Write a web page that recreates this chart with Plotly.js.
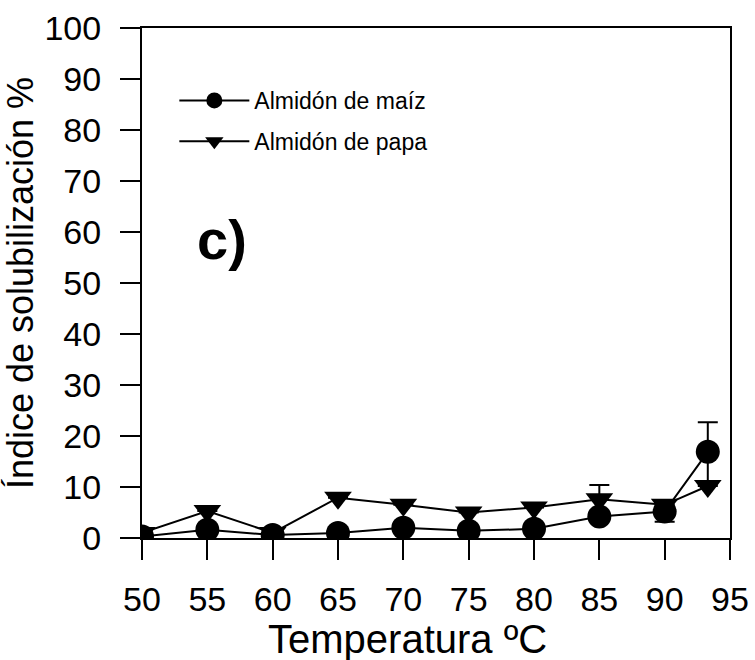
<!DOCTYPE html>
<html>
<head>
<meta charset="utf-8">
<script src="https://cdn.plot.ly/plotly-3.0.1.min.js"></script>
<style>html,body{margin:0;padding:0;background:#fff;}#chart{width:755px;height:660px;}</style>
</head>
<body>
<div id="chart"></div>
<script>
var temperatura = [50, 55, 60, 65, 70, 75, 80, 85, 90, 93.3];
var maiz = [0.3, 1.6, 0.6, 1.0, 2.0, 1.4, 1.8, 4.2, 5.2, 16.9];
var maizErr = [0, 0, 0, 0, 0, 0, 0, 0, 2.0, 5.8];
var papa = [1.0, 5.3, 1.0, 7.9, 6.5, 5.0, 6.0, 7.6, 6.5, 10.2];
var papaErr = [0, 0, 0, 0, 0, 0, 0, 2.8, 0, 0];
var xTicks = [50, 55, 60, 65, 70, 75, 80, 85, 90, 95];
var yTicks = [0, 10, 20, 30, 40, 50, 60, 70, 80, 90, 100];

var traces = [
  {
    x: temperatura, y: maiz, name: 'Almidón de maíz', type: 'scatter', mode: 'lines+markers',
    legendgroup: 'a',
    line: {color: '#000', width: 2},
    marker: {symbol: 'circle', size: 24, color: '#000'},
    error_y: {type: 'data', array: maizErr, visible: true, color: '#000', thickness: 2, width: 10}
  },
  {
    x: temperatura, y: papa, name: 'Almidón de papa', type: 'scatter', mode: 'lines+markers',
    legendgroup: 'b',
    line: {color: '#000', width: 2},
    marker: {symbol: 'triangle-down', size: 24, color: '#000'},
    error_y: {type: 'data', array: papaErr, visible: true, color: '#000', thickness: 2, width: 10}
  }
];

var layout = {
  width: 755, height: 660,
  margin: {l: 142, r: 25, t: 28, b: 122},
  paper_bgcolor: '#fff', plot_bgcolor: '#fff',
  font: {family: 'Liberation Sans, Arial, sans-serif', color: '#000'},
  showlegend: true,
  legend: {
    x: 0.055, y: 0.9, xanchor: 'left', yanchor: 'top',
    font: {size: 23, color: '#000'},
    bgcolor: 'rgba(0,0,0,0)', borderwidth: 0,
    traceorder: 'grouped', tracegroupgap: 8,
    itemwidth: 70
  },
  xaxis: {
    range: [50, 95], tickvals: xTicks, ticktext: xTicks.map(String),
    showgrid: false, zeroline: false,
    showline: true, linecolor: '#000', linewidth: 2, mirror: true,
    ticks: 'outside', ticklen: 20, tickwidth: 2, tickcolor: '#000',
    ticklabelstandoff: 10,
    tickfont: {size: 34, color: '#000'}
  },
  yaxis: {
    range: [0, 100], tickvals: yTicks, ticktext: yTicks.map(String),
    showgrid: false, zeroline: false,
    showline: true, linecolor: '#000', linewidth: 2, mirror: true,
    ticks: 'outside', ticklen: 20, tickwidth: 2, tickcolor: '#000',
    ticklabelstandoff: 12,
    tickfont: {size: 34, color: '#000'},
    title: {text: 'Índice de solubilización %', font: {size: 36, color: '#000'}, standoff: 0}
  },
  annotations: [
    {
      text: '<b>c)</b>', xref: 'paper', yref: 'paper',
      x: (222 - 142) / 588, y: (538 - 240) / 510,
      xanchor: 'center', yanchor: 'middle', showarrow: false,
      font: {size: 56, color: '#000'}
    },
    {
      text: 'Temperatura ºC', xref: 'paper', yref: 'paper',
      x: (407 - 142) / 588, y: (538 - 639) / 510,
      xanchor: 'center', yanchor: 'middle', showarrow: false,
      font: {size: 40, color: '#000'}
    }
  ]
};

Plotly.newPlot('chart', traces, layout, {displayModeBar: false, staticPlot: true});
</script>
</body>
</html>
